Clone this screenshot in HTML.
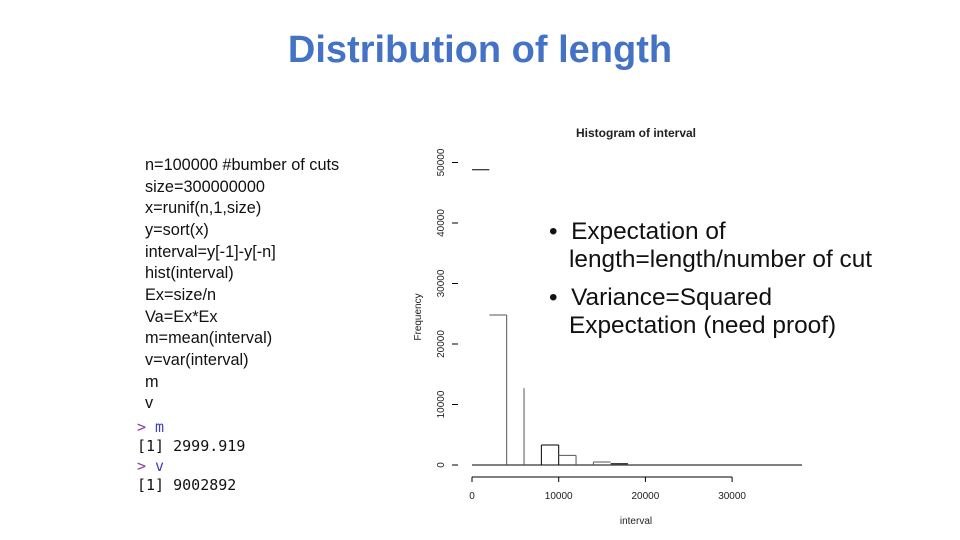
<!DOCTYPE html>
<html><head><meta charset="utf-8"><style>
body{margin:0;width:960px;height:540px;background:#fff;position:relative;overflow:hidden;font-family:"Liberation Sans",sans-serif}
.t{position:absolute;white-space:nowrap}
#title{left:0;width:960px;text-align:center;top:29px;font-size:38px;font-weight:bold;color:#4472C4}
.code{left:145px;font-size:16.3px;color:#111}
.con{left:137px;font-family:"DejaVu Sans Mono","Liberation Mono",monospace;font-size:15px}
.b{font-size:24.4px;color:#111}
</style></head><body>
<div class="t" id="title">Distribution of length</div>
<div>
<div class="t code" style="top:156px">n=100000 #bumber of cuts</div>
<div class="t code" style="top:178px">size=300000000</div>
<div class="t code" style="top:199px">x=runif(n,1,size)</div>
<div class="t code" style="top:221px">y=sort(x)</div>
<div class="t code" style="top:243px">interval=y[-1]-y[-n]</div>
<div class="t code" style="top:264px">hist(interval)</div>
<div class="t code" style="top:286px">Ex=size/n</div>
<div class="t code" style="top:308px">Va=Ex*Ex</div>
<div class="t code" style="top:329px">m=mean(interval)</div>
<div class="t code" style="top:351px">v=var(interval)</div>
<div class="t code" style="top:373px">m</div>
<div class="t code" style="top:394px">v</div>
</div>
<div>
<div class="t con" style="top:418px;color:#3d3dbf"><span style="color:#8a3a9a">&gt;</span> m</div>
<div class="t con" style="top:437px;color:#111">[1] 2999.919</div>
<div class="t con" style="top:457px;color:#3d3dbf"><span style="color:#8a3a9a">&gt;</span> v</div>
<div class="t con" style="top:476px;color:#111">[1] 9002892</div>
</div>
<svg id="chart" width="960" height="540" style="position:absolute;left:0;top:0"></svg>
<div>
<div class="t b" style="left:549px;top:218px">•&nbsp; Expectation of</div>
<div class="t b" style="left:569px;top:246px">length=length/number of cut</div>
<div class="t b" style="left:549px;top:284px">•&nbsp; Variance=Squared</div>
<div class="t b" style="left:569px;top:312px">Expectation (need proof)</div>
</div>
<script>
const binStarts=[0,2000,4000,6000,8000,10000,12000,14000,16000];
const freqs=[48800,24800,0,12700,3300,1600,0,500,200];
const showTop=[true,true,false,false,true,true,false,true,true];
const showLeft=[false,false,false,true,true,false,false,true,false];
const showRight=[false,true,false,false,true,true,false,false,false];
const xTicks=[0,10000,20000,30000];
const yTicks=[0,10000,20000,30000,40000,50000];
const binWidth=2000;
const svg=document.getElementById('chart');
const NS='http://www.w3.org/2000/svg';
const X=v=>472+v*0.00867;
const Y=v=>465-v*0.00605;
function mk(tag,at){const e=document.createElementNS(NS,tag);for(const k in at)e.setAttribute(k,at[k]);svg.appendChild(e);return e;}
const title=mk('text',{x:636,y:137,'text-anchor':'middle','font-size':12,'font-weight':'bold',fill:'#222'});title.textContent='Histogram of interval';


const xl=mk('text',{x:636,y:524,'text-anchor':'middle','font-size':10,fill:'#222'});xl.textContent='interval';


const yl=mk('text',{x:0,y:0,'text-anchor':'middle','font-size':10,fill:'#222',transform:'translate(421,317) rotate(-90)'});yl.textContent='Frequency';


mk('line',{x1:X(0),y1:477,x2:X(30000),y2:477,stroke:'#000','stroke-width':1});
xTicks.forEach(t=>{
  mk('line',{x1:X(t),y1:477,x2:X(t),y2:482,stroke:'#000'});
  const tx=mk('text',{x:X(t),y:499,'text-anchor':'middle','font-size':10,fill:'#222'});tx.textContent=t;
  
  
});
yTicks.forEach(t=>{
  mk('line',{x1:452,y1:Y(t),x2:458,y2:Y(t),stroke:'#000'});
  const tx=mk('text',{x:0,y:0,'text-anchor':'middle','font-size':10,fill:'#222',transform:`translate(444,${Y(t)}) rotate(-90)`});tx.textContent=t;
  
  
});
mk('line',{x1:X(0),y1:Y(0),x2:802,y2:Y(0),stroke:'#000'});
binStarts.forEach((s,i)=>{
  const f=freqs[i]; if(!f) return;
  let d='';
  if(showLeft[i]) d+=`M${X(s)},${Y(0)}V${Y(f)}`;
  if(showTop[i]) d+=`M${X(s)},${Y(f)}H${X(s+binWidth)}`;
  if(showRight[i]) d+=`M${X(s+binWidth)},${Y(f)}V${Y(0)}`;
  const r=mk('path',{d:d,fill:'none',stroke:i%2?'#555':'#000','stroke-width':1});
  
  
});
</script>
</body></html>
